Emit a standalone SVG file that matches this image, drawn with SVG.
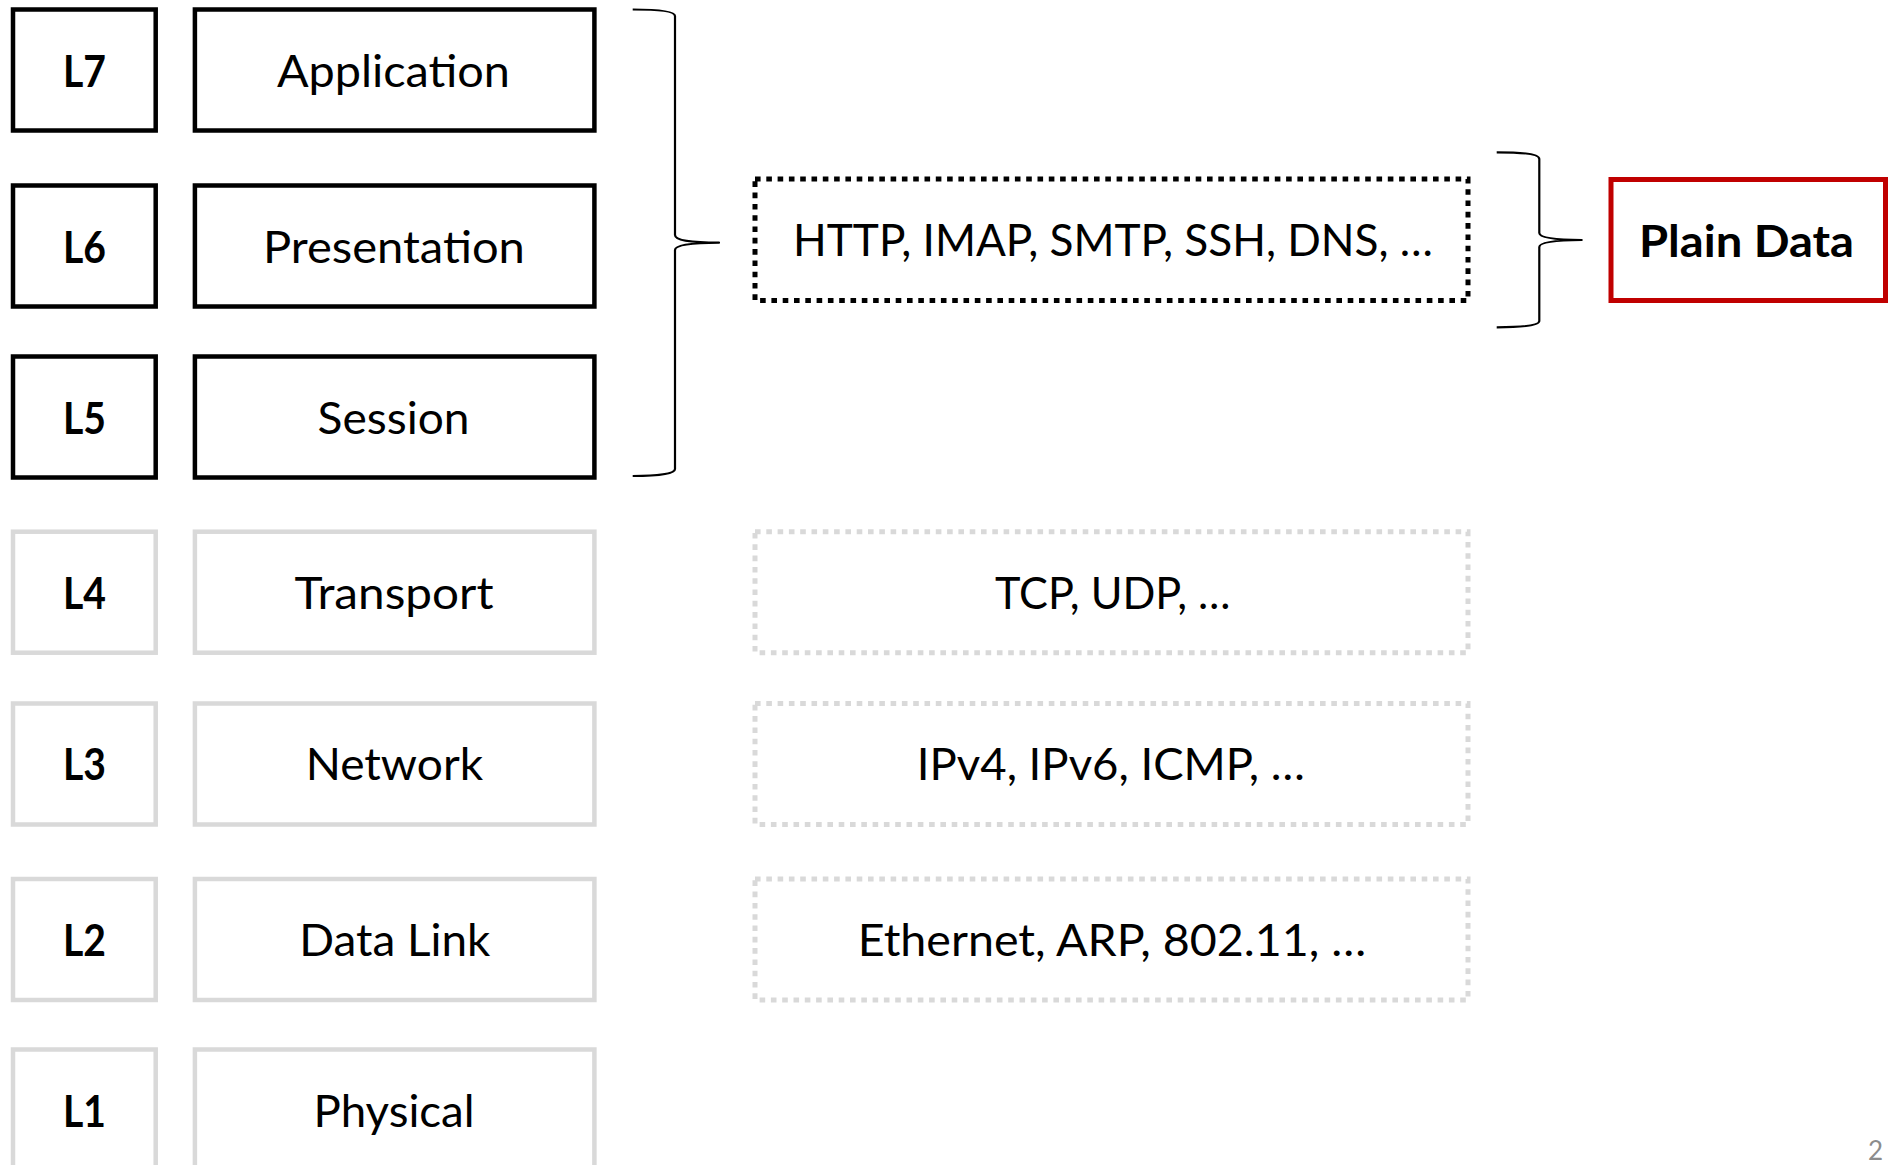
<svg xmlns="http://www.w3.org/2000/svg" width="1896" height="1165" viewBox="0 0 1896 1165">
  <style>
    .bg { fill: #ffffff; }
    .box { fill: #ffffff; stroke: #000000; stroke-width: 4.5; }
    .box-dim { fill: #ffffff; stroke: #D9D9D9; stroke-width: 4.5; }
    .dot { fill: none; stroke: #000000; stroke-width: 5; stroke-dasharray: 5.6 5.7; }
    .dot-dim { fill: none; stroke: #D9D9D9; stroke-width: 5; stroke-dasharray: 5.6 5.7; }
    .red { fill: #ffffff; stroke: #C00000; stroke-width: 5; }
    .brace { fill: none; stroke: #000000; stroke-width: 2.2; stroke-linejoin: round; }
    .lbl { font-family: Lato, "Open Sans", "Liberation Sans", sans-serif; font-size: 44px; font-weight: 700; fill: #000000; text-anchor: middle; }
    .txt { font-family: Lato, "Open Sans", "Liberation Sans", sans-serif; font-size: 44px; font-weight: 400; fill: #000000; text-anchor: middle; }
    .pg { font-family: Lato, "Open Sans", "Liberation Sans", sans-serif; font-size: 26px; fill: #8C8C8C; text-anchor: middle; }
  </style>
  <rect class="bg" x="0" y="0" width="1896" height="1165"/>

  <g id="connectors">
    <path class="brace" d="M632.7,9.5 C657,9.5 675,11 675,16 L675,235 C675,240 688,242.5 719,242.7 C688,243 675,245.5 675,250 L675,469 C675,474 657,476 632.7,476"/>
    <path class="brace" d="M1496.7,152.3 C1520,152.3 1539.3,154 1539.3,159 L1539.3,233 C1539.3,237 1551,239.7 1581.7,240 C1551,240.3 1539.3,243 1539.3,247 L1539.3,321 C1539.3,326 1520,327.3 1496.7,327.3"/>
  </g>

  <g id="L7">
    <rect class="box" x="13" y="9.5" width="142.7" height="121"/>
    <text class="lbl" x="84.4" y="87" textLength="43" lengthAdjust="spacingAndGlyphs">L7</text>
  </g>
  <g id="application">
    <rect class="box" x="194.9" y="9.5" width="399.5" height="121"/>
    <text class="txt" x="393.4" y="87" textLength="233" lengthAdjust="spacingAndGlyphs">Application</text>
  </g>

  <g id="L6">
    <rect class="box" x="13" y="185.5" width="142.7" height="121"/>
    <text class="lbl" x="84.4" y="262.5" textLength="43" lengthAdjust="spacingAndGlyphs">L6</text>
  </g>
  <g id="presentation">
    <rect class="box" x="194.9" y="185.5" width="399.5" height="121"/>
    <text class="txt" x="393.9" y="262.5" textLength="262" lengthAdjust="spacingAndGlyphs">Presentation</text>
  </g>

  <g id="L5">
    <rect class="box" x="13" y="356.5" width="142.7" height="121"/>
    <text class="lbl" x="84.4" y="433.5" textLength="43" lengthAdjust="spacingAndGlyphs">L5</text>
  </g>
  <g id="session">
    <rect class="box" x="194.9" y="356.5" width="399.5" height="121"/>
    <text class="txt" x="393.6" y="433.5" textLength="152" lengthAdjust="spacingAndGlyphs">Session</text>
  </g>

  <g id="L4">
    <rect class="box-dim" x="13" y="531.7" width="142.7" height="121"/>
    <text class="lbl" x="84.4" y="609" textLength="43" lengthAdjust="spacingAndGlyphs">L4</text>
  </g>
  <g id="transport">
    <rect class="box-dim" x="194.9" y="531.7" width="399.5" height="121"/>
    <text class="txt" x="394" y="609" textLength="199" lengthAdjust="spacingAndGlyphs">Transport</text>
  </g>

  <g id="L3">
    <rect class="box-dim" x="13" y="703.5" width="142.7" height="121"/>
    <text class="lbl" x="84.4" y="780" textLength="43" lengthAdjust="spacingAndGlyphs">L3</text>
  </g>
  <g id="network">
    <rect class="box-dim" x="194.9" y="703.5" width="399.5" height="121"/>
    <text class="txt" x="394.4" y="780" textLength="177.5" lengthAdjust="spacingAndGlyphs">Network</text>
  </g>

  <g id="L2">
    <rect class="box-dim" x="13" y="879" width="142.7" height="121"/>
    <text class="lbl" x="84.4" y="956" textLength="43" lengthAdjust="spacingAndGlyphs">L2</text>
  </g>
  <g id="datalink">
    <rect class="box-dim" x="194.9" y="879" width="399.5" height="121"/>
    <text class="txt" x="394.8" y="956" textLength="191" lengthAdjust="spacingAndGlyphs">Data Link</text>
  </g>

  <g id="L1">
    <rect class="box-dim" x="13" y="1049.5" width="142.7" height="121"/>
    <text class="lbl" x="84.4" y="1126.5" textLength="43" lengthAdjust="spacingAndGlyphs">L1</text>
  </g>
  <g id="physical">
    <rect class="box-dim" x="194.9" y="1049.5" width="399.5" height="121"/>
    <text class="txt" x="394" y="1126.5" textLength="161" lengthAdjust="spacingAndGlyphs">Physical</text>
  </g>

  <g id="app-protocols">
    <rect class="dot" x="755" y="179" width="713" height="121.5"/>
    <text class="txt" x="1113" y="256" textLength="640" lengthAdjust="spacingAndGlyphs">HTTP, IMAP, SMTP, SSH, DNS, …</text>
  </g>
  <g id="transport-protocols">
    <rect class="dot-dim" x="755" y="531.7" width="713" height="121"/>
    <text class="txt" x="1112.7" y="609" textLength="235.5" lengthAdjust="spacingAndGlyphs">TCP, UDP, …</text>
  </g>
  <g id="network-protocols">
    <rect class="dot-dim" x="755" y="703.5" width="713" height="121"/>
    <text class="txt" x="1110.8" y="779.5" textLength="388" lengthAdjust="spacingAndGlyphs">IPv4, IPv6, ICMP, …</text>
  </g>
  <g id="datalink-protocols">
    <rect class="dot-dim" x="755" y="879" width="713" height="121"/>
    <text class="txt" x="1112" y="955.5" textLength="508.5" lengthAdjust="spacingAndGlyphs">Ethernet, ARP, 802.11, …</text>
  </g>

  <g id="plain-data">
    <rect class="red" x="1611" y="179.5" width="274.5" height="121"/>
    <text class="lbl" x="1746.5" y="257" textLength="215" lengthAdjust="spacingAndGlyphs">Plain Data</text>
  </g>

  <text class="pg" x="1875.5" y="1160">2</text>
</svg>
